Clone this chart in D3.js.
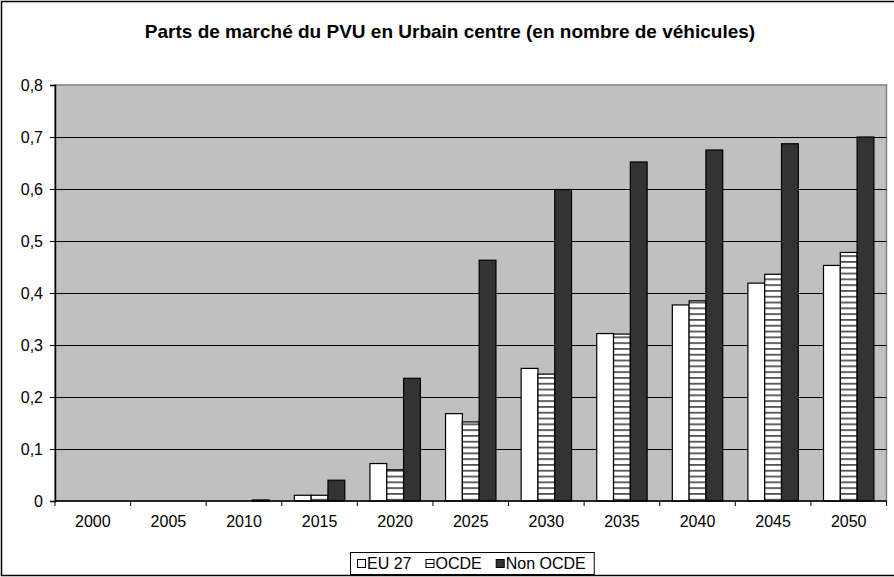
<!doctype html>
<html>
<head>
<meta charset="utf-8">
<style>
    body { margin: 0; background: #fff; }
    svg { display: block; font-family: 'Liberation Sans', Arial, sans-serif; }
    .title { font-size: 19px; font-weight: bold; fill: #000; }
    .axis text { font-size: 16px; fill: #000; font-family: 'Liberation Sans', Arial, sans-serif; }
    .axis path, .axis line { stroke: #000; }
    .grid line { stroke: #000; stroke-width: 1; }
    .bar { stroke: #000; stroke-width: 1.2; }
    .legend text { font-size: 16px; fill: #000; }
</style>
<script src="https://d3js.org/d3.v7.min.js"></script>
</head>
<body>
<svg width="894" height="577"></svg>
<script>
    const categories = ['2000', '2005', '2010', '2015', '2020', '2025', '2030', '2035', '2040', '2045', '2050'];
    const seriesNames = ['EU 27', 'OCDE', 'Non OCDE'];
    const eu27 = [0, 0, 0, 0.011, 0.072, 0.168, 0.255, 0.322, 0.377, 0.419, 0.453];
    const ocde = [0, 0, 0, 0.011, 0.060, 0.152, 0.244, 0.321, 0.385, 0.436, 0.478];
    const nonOcde = [0, 0, 0.002, 0.040, 0.236, 0.463, 0.599, 0.652, 0.675, 0.687, 0.700];
    const yTicks = [0, 0.1, 0.2, 0.3, 0.4, 0.5, 0.6, 0.7, 0.8];
    const yTickLabels = ['0', '0,1', '0,2', '0,3', '0,4', '0,5', '0,6', '0,7', '0,8'];
    const chartTitle = 'Parts de marché du PVU en Urbain centre (en nombre de véhicules)';

    const seriesValues = [eu27, ocde, nonOcde];
    const fills = ['#ffffff', 'url(#hstripe)', '#333333'];

    const svg = d3.select('svg');

    // plot area
    const plotLeft = 55, plotRight = 886.5, plotTop = 85, plotBottom = 501;

    const defs = svg.append('defs');
    const pat = defs.append('pattern')
        .attr('id', 'hstripe')
        .attr('patternUnits', 'userSpaceOnUse')
        .attr('width', 8)
        .attr('height', 5.8);
    pat.append('rect').attr('width', 8).attr('height', 5.8).attr('fill', '#fff');
    pat.append('rect').attr('y', 0).attr('width', 8).attr('height', 1.8).attr('fill', '#555');

    // chart border
    svg.append('rect')
        .attr('x', 1.5).attr('y', 1.5)
        .attr('width', 950).attr('height', 574)
        .attr('fill', 'none')
        .attr('stroke', '#000')
        .attr('stroke-width', 1.5);

    const x = d3.scaleBand()
        .domain(categories)
        .range([plotLeft, plotRight])
        .padding(0);

    const x1 = d3.scaleBand()
        .domain(seriesNames)
        .range([0, x.bandwidth()])
        .paddingInner(0)
        .paddingOuter(0.75);

    const y = d3.scaleLinear()
        .domain([0, 0.8])
        .range([plotBottom, plotTop]);

    svg.append('rect')
        .attr('x', plotLeft).attr('y', plotTop)
        .attr('width', plotRight - plotLeft).attr('height', plotBottom - plotTop)
        .attr('fill', '#c0c0c0')
        .attr('stroke', '#808080')
        .attr('stroke-width', 1.5);

    svg.append('g')
        .attr('class', 'grid')
        .selectAll('line')
        .data(yTicks.slice(1, -1))
        .enter()
        .append('line')
        .attr('x1', plotLeft).attr('x2', plotRight)
        .attr('y1', d => Math.round(y(d)) + 0.5)
        .attr('y2', d => Math.round(y(d)) + 0.5);

    const groups = svg.append('g')
        .selectAll('g')
        .data(categories)
        .enter()
        .append('g')
        .attr('transform', c => `translate(${x(c)},0)`);

    groups.selectAll('rect')
        .data((c, i) => seriesNames.map((s, k) => ({ s: s, k: k, v: seriesValues[k][i] })).filter(d => d.v > 0))
        .enter()
        .append('rect')
        .attr('class', 'bar')
        .attr('x', d => x1(d.s))
        .attr('y', d => y(d.v))
        .attr('width', x1.bandwidth())
        .attr('height', d => y(0) - y(d.v))
        .attr('fill', d => fills[d.k]);

    // y axis
    svg.append('g')
        .attr('class', 'axis')
        .attr('transform', `translate(${plotLeft},0)`)
        .call(d3.axisLeft(y)
            .tickValues(yTicks)
            .tickSize(5)
            .tickPadding(7)
            .tickFormat((d, i) => yTickLabels[i]))
        .call(g => g.select('.domain').attr('stroke-width', 1.5));

    // x axis: labels centred, ticks at category boundaries
    const xAxis = svg.append('g')
        .attr('class', 'axis')
        .attr('transform', `translate(0,${plotBottom})`)
        .call(d3.axisBottom(x).tickSize(0).tickPadding(15));
    xAxis.select('.domain').remove();
    xAxis.append('line')
        .attr('x1', plotLeft).attr('x2', plotRight)
        .attr('y1', 0).attr('y2', 0)
        .attr('stroke', '#000').attr('stroke-width', 1.5);
    xAxis.selectAll('.bound')
        .data(categories.concat(['end']))
        .enter()
        .append('line')
        .attr('class', 'bound')
        .attr('x1', c => c === 'end' ? plotRight : x(c))
        .attr('x2', c => c === 'end' ? plotRight : x(c))
        .attr('y1', 0).attr('y2', 5)
        .attr('stroke', '#000');

    svg.append('text')
        .attr('class', 'title')
        .attr('x', 450)
        .attr('y', 38)
        .attr('text-anchor', 'middle')
        .text(chartTitle);

    // legend
    const legend = svg.append('g').attr('class', 'legend');
    const legBox = legend.append('rect')
        .attr('x', 350.5).attr('y', 552.5)
        .attr('height', 22)
        .attr('fill', '#fff')
        .attr('stroke', '#000');
    let lx = 357;
    seriesNames.forEach((s, k) => {
        legend.append('rect')
            .attr('x', lx + 0.5).attr('y', 559.5)
            .attr('width', 8).attr('height', 8)
            .attr('fill', k === 1 ? '#fff' : fills[k])
            .attr('stroke', '#000');
        if (k === 1) {
            legend.append('line')
                .attr('x1', lx + 0.5).attr('x2', lx + 8.5)
                .attr('y1', 563.5).attr('y2', 563.5)
                .attr('stroke', '#000');
        }
        const t = legend.append('text')
            .attr('x', lx + 10)
            .attr('y', 569)
            .text(s);
        lx += 10 + t.node().getComputedTextLength() + 14;
    });
    legBox.attr('width', lx - 350 - 6);
</script>
</body>
</html>
